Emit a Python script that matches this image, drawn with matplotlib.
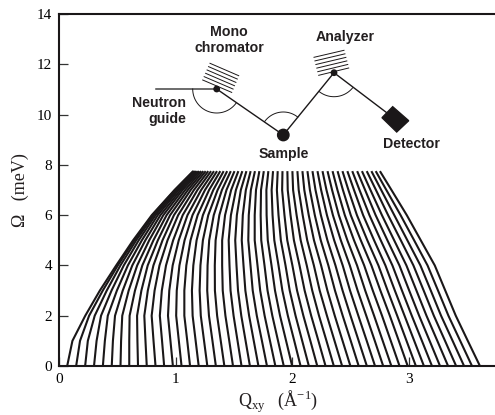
import numpy as np
import matplotlib
matplotlib.use("Agg")
import matplotlib.pyplot as plt
from matplotlib.patches import Polygon, Circle

plt.rcParams['font.family'] = ['Liberation Serif', 'DejaVu Serif']
plt.rcParams['mathtext.fontset'] = 'custom'
plt.rcParams['mathtext.rm'] = 'Liberation Serif'

# energy levels where the curves were read
omega_levels = [0, 1, 2, 3, 4, 5, 6, 7, 7.75]

# Q of each curve at those levels
q_at_0 = [0.070, 0.147, 0.224, 0.300, 0.376, 0.452, 0.527, 0.602, 0.677, 0.752,
          0.827, 0.901, 0.976, 1.050, 1.123, 1.197, 1.271, 1.344, 1.417, 1.491,
          1.564, 1.636, 1.709, 1.782, 1.854, 1.926, 1.998, 2.070, 2.141, 2.213,
          2.284, 2.355, 2.426, 2.497, 2.568, 2.638, 2.708, 2.778, 2.848, 2.918,
          2.988, 3.058, 3.127, 3.196, 3.265, 3.334, 3.403, 3.471, 3.539, 3.607]
q_at_1 = [0.115, 0.180, 0.247, 0.322, 0.393, 0.462, 0.532, 0.602, 0.672, 0.741,
          0.810, 0.883, 0.955, 1.027, 1.099, 1.171, 1.243, 1.315, 1.386, 1.459,
          1.530, 1.599, 1.669, 1.739, 1.808, 1.877, 1.946, 2.016, 2.084, 2.154,
          2.223, 2.292, 2.361, 2.430, 2.500, 2.568, 2.637, 2.706, 2.774, 2.843,
          2.912, 2.978, 3.044, 3.110, 3.176, 3.242, 3.308, 3.373, 3.438, 3.503]
q_at_2 = [0.225, 0.258, 0.306, 0.360, 0.418, 0.480, 0.542, 0.605, 0.669, 0.731,
          0.794, 0.864, 0.934, 1.004, 1.074, 1.145, 1.215, 1.285, 1.355, 1.426,
          1.496, 1.562, 1.629, 1.695, 1.762, 1.828, 1.894, 1.961, 2.027, 2.094,
          2.161, 2.228, 2.296, 2.363, 2.431, 2.498, 2.565, 2.633, 2.700, 2.768,
          2.835, 2.898, 2.961, 3.023, 3.086, 3.149, 3.212, 3.274, 3.337, 3.400]
q_at_3 = [0.350, 0.375, 0.409, 0.450, 0.496, 0.546, 0.597, 0.651, 0.706, 0.761,
          0.819, 0.881, 0.945, 1.009, 1.074, 1.139, 1.205, 1.270, 1.336, 1.403,
          1.470, 1.534, 1.597, 1.660, 1.724, 1.787, 1.851, 1.914, 1.977, 2.040,
          2.105, 2.170, 2.234, 2.300, 2.365, 2.430, 2.494, 2.559, 2.624, 2.689,
          2.754, 2.816, 2.878, 2.939, 3.001, 3.063, 3.125, 3.186, 3.248, 3.310]
q_at_4 = [0.490, 0.504, 0.526, 0.555, 0.590, 0.628, 0.670, 0.714, 0.760, 0.809,
          0.861, 0.917, 0.974, 1.032, 1.091, 1.151, 1.212, 1.273, 1.335, 1.398,
          1.461, 1.521, 1.581, 1.641, 1.701, 1.761, 1.821, 1.881, 1.941, 2.000,
          2.061, 2.123, 2.184, 2.246, 2.308, 2.369, 2.431, 2.492, 2.554, 2.615,
          2.677, 2.737, 2.797, 2.857, 2.917, 2.977, 3.037, 3.097, 3.158, 3.220]
q_at_5 = [0.635, 0.645, 0.661, 0.683, 0.710, 0.740, 0.773, 0.809, 0.847, 0.887,
          0.930, 0.978, 1.026, 1.076, 1.127, 1.179, 1.233, 1.287, 1.342, 1.398,
          1.454, 1.510, 1.566, 1.622, 1.677, 1.733, 1.789, 1.845, 1.901, 1.956,
          2.013, 2.071, 2.127, 2.185, 2.243, 2.300, 2.358, 2.415, 2.471, 2.528,
          2.586, 2.642, 2.700, 2.757, 2.814, 2.872, 2.929, 2.985, 3.043, 3.100]
q_at_6 = [0.795, 0.801, 0.812, 0.827, 0.846, 0.869, 0.894, 0.922, 0.952, 0.985,
          1.021, 1.060, 1.101, 1.144, 1.188, 1.233, 1.279, 1.326, 1.374, 1.423,
          1.473, 1.524, 1.575, 1.626, 1.677, 1.728, 1.779, 1.830, 1.881, 1.932,
          1.984, 2.036, 2.088, 2.140, 2.192, 2.244, 2.296, 2.347, 2.398, 2.449,
          2.500, 2.553, 2.606, 2.660, 2.713, 2.767, 2.820, 2.873, 2.927, 2.980]
q_at_7 = [0.990, 0.994, 1.001, 1.012, 1.025, 1.042, 1.059, 1.081, 1.104, 1.128,
          1.156, 1.186, 1.218, 1.251, 1.286, 1.322, 1.359, 1.396, 1.435, 1.475,
          1.516, 1.558, 1.601, 1.644, 1.688, 1.731, 1.777, 1.822, 1.867, 1.912,
          1.960, 2.006, 2.054, 2.102, 2.150, 2.198, 2.246, 2.292, 2.340, 2.386,
          2.433, 2.480, 2.528, 2.575, 2.623, 2.669, 2.716, 2.761, 2.805, 2.849]
q_at_top = [1.150, 1.153, 1.159, 1.167, 1.177, 1.189, 1.203, 1.219, 1.237, 1.257,
            1.279, 1.303, 1.328, 1.354, 1.382, 1.411, 1.441, 1.472, 1.504, 1.537,
            1.571, 1.606, 1.642, 1.679, 1.717, 1.755, 1.794, 1.834, 1.874, 1.915,
            1.957, 2.000, 2.043, 2.086, 2.129, 2.172, 2.215, 2.258, 2.301, 2.344,
            2.387, 2.429, 2.471, 2.513, 2.555, 2.596, 2.637, 2.677, 2.714, 2.750]

W, H = 495, 415
fig = plt.figure(figsize=(W / 100, H / 100), dpi=100)
ax = fig.add_axes([59 / W, 1 - 366 / H, (W - 59) / W, 352 / H])

curvas = np.array([q_at_0, q_at_1, q_at_2, q_at_3, q_at_4, q_at_5, q_at_6, q_at_7, q_at_top])
for i in range(curvas.shape[1]):
    ax.plot(curvas[:, i], omega_levels, color='#1a1718', lw=1.5, solid_capstyle='butt', solid_joinstyle='round')

ax.set_xlim(0, (W - 59) / 116.7)
ax.set_ylim(0, 14)
ax.set_xticks([0, 1, 2, 3])
ax.set_yticks(range(0, 15, 2))
ax.tick_params(direction='in', length=6.5, width=0.9, color='#333333', labelsize=11, pad=5)
ax.spines['right'].set_visible(False)
for s in ['left', 'bottom', 'top']:
    ax.spines[s].set_linewidth(1.5)
    ax.spines[s].set_color('#1a1718')

# schematic of the spectrometer, in image pixels
over = fig.add_axes([0, 0, 1, 1])
over.set_xlim(0, W)
over.set_ylim(H, 0)
over.axis('off')
over.patch.set_alpha(0)

ink = '#1a1718'
beam_x = [155.7, 216.7, 283.3, 334, 395]
beam_y = [89, 89, 135, 72.7, 119]
over.plot(beam_x[:2], beam_y[:2], color='#444444', lw=1.1)
over.plot(beam_x[1:], beam_y[1:], color=ink, lw=1.0)

def dibujarArco(cx, cy, r, a1, a2):
    a = np.radians(np.linspace(a1, a2, 40))
    over.plot(cx + r * np.cos(a), cy + r * np.sin(a), color=ink, lw=0.7)

dibujarArco(216.7, 89, 24, 36, 180)
dibujarArco(283.3, 135, 23, 216, 309)
dibujarArco(334, 72.7, 24, 39, 128)

for t in np.linspace(0, 1, 6):
    over.plot([210 + t * (-7.3), 238.7 + t * (-7)], [63.3 + t * 16.7, 75.7 + t * 16.7], color=ink, lw=0.7)
    over.plot([314 + t * 4.7, 344 + t * 4.7], [57.3 + t * 18, 50.3 + t * 17.7], color=ink, lw=0.7)

over.add_patch(Circle((216.7, 89), 2.7, color=ink, zorder=5))
over.add_patch(Circle((334, 72.7), 2.7, color=ink, zorder=5))
over.add_patch(Circle((283.3, 135), 5.7, color=ink, zorder=5))
over.add_patch(Polygon([(392.7, 106.7), (408.7, 120.7), (396.7, 132), (382, 117.7)], color=ink, zorder=5))

bold = dict(family=['Liberation Sans', 'DejaVu Sans'], fontweight='bold', fontsize=10.2, color='#231f20', va='center')
over.text(229, 32, 'Mono', ha='center', **bold)
over.text(229, 48, 'chromator', ha='center', **bold)
over.text(186, 103, 'Neutron', ha='right', **bold)
over.text(186, 119, 'guide', ha='right', **bold)
over.text(284, 154, 'Sample', ha='center', **bold)
over.text(345, 37, 'Analyzer', ha='center', **bold)
over.text(411, 144, 'Detector', ha='center', **bold)

over.text(20, 190, '\u03a9   (meV)', rotation=90, ha='center', va='center', fontsize=13, color='#231f20')
over.text(278, 402, 'Q$_{\\mathrm{xy}}$   (\u00c5$^{\\mathrm{-1}}$)', ha='center', va='center', fontsize=13, color='#231f20')

fig.savefig('out.png', dpi=100)
